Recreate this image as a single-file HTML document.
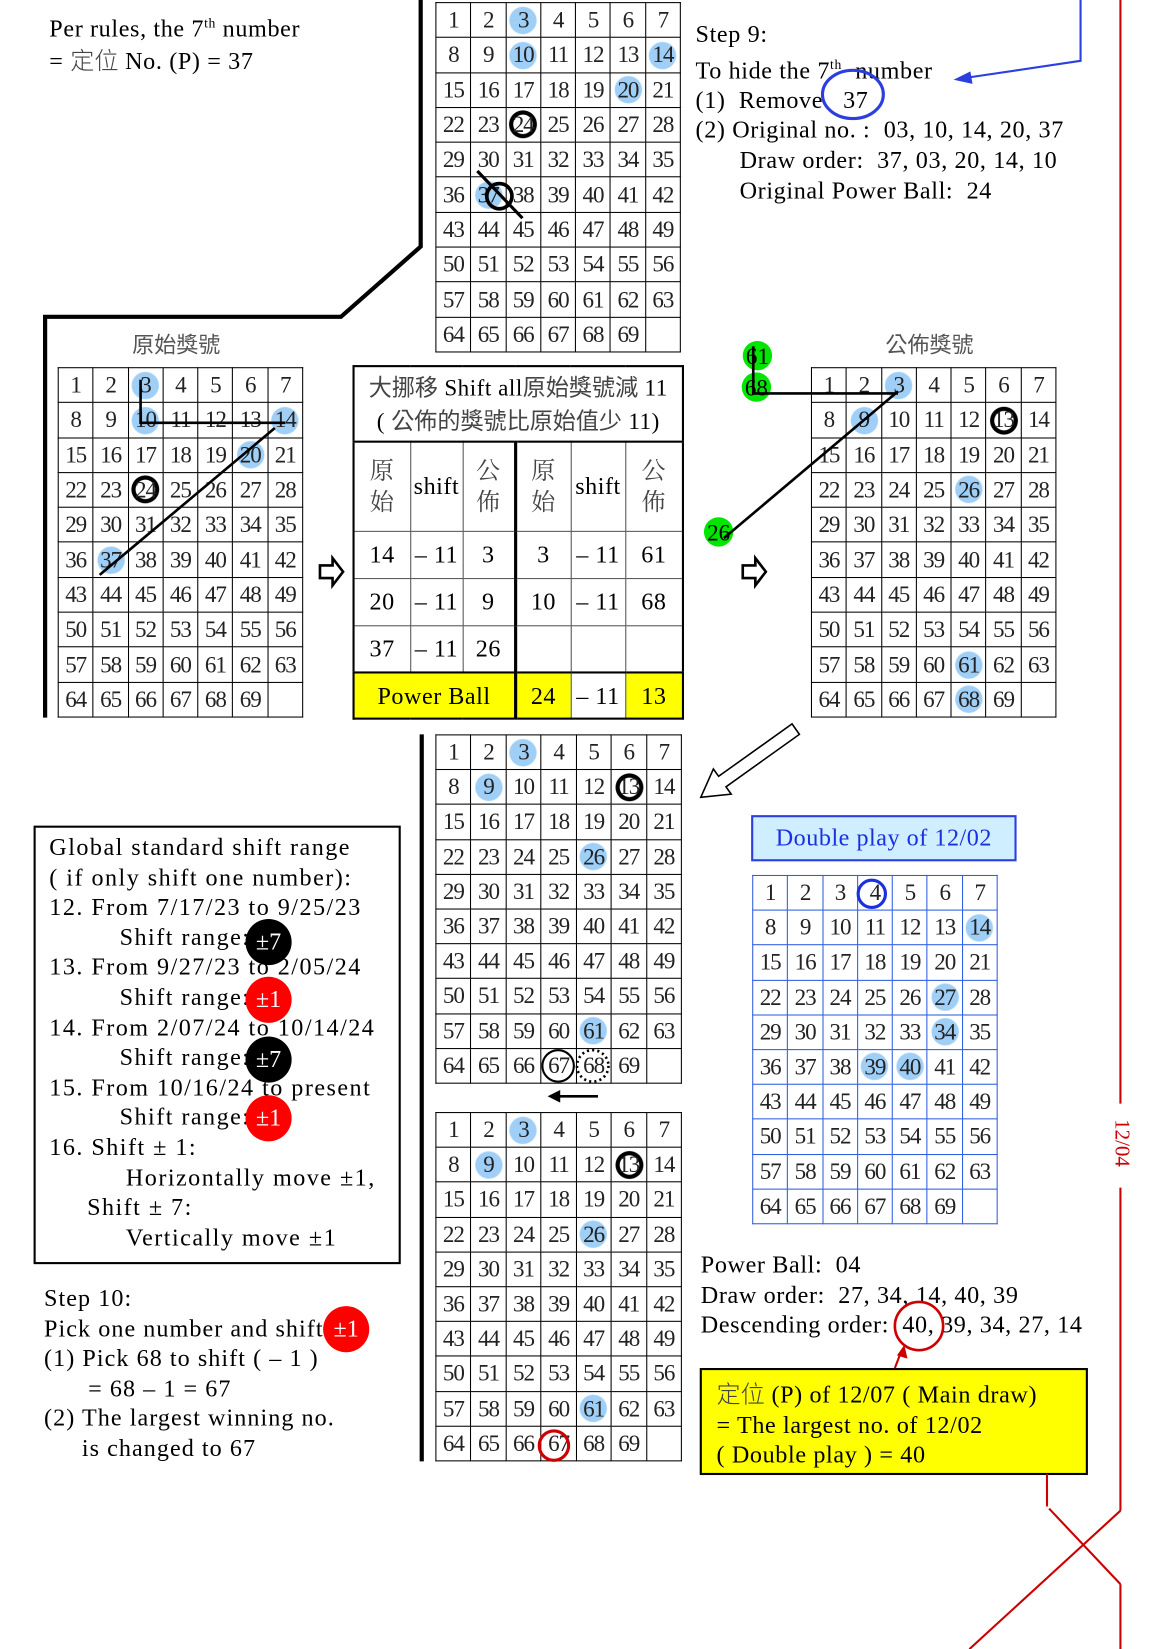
<!DOCTYPE html>
<html><head><meta charset="utf-8"><style>
html,body{margin:0;padding:0;background:#fff;width:1154px;height:1649px;overflow:hidden}
#w{position:absolute;left:0;top:0;width:1100px;height:1572px;transform:scale(1.04909);transform-origin:0 0;font-family:"Liberation Serif","Noto Serif CJK SC",serif;color:#000}
.a{position:absolute;white-space:nowrap}
.t{font-size:23px;line-height:28.6px;letter-spacing:0.6px}
table.g{position:absolute;border-collapse:collapse;table-layout:fixed}
table.g td{border:1.5px solid #000;text-align:center;vertical-align:middle;padding:0;font:22px/1 "Liberation Serif",serif;color:#222;letter-spacing:-1px}
table.bl td{border:1.5px solid #2f5ce0}
td.b{background:radial-gradient(circle,#9fcff7 0,#9fcff7 12.5px,transparent 13.5px)}
td.o{background:radial-gradient(circle,transparent 0,transparent 9px,#000 9.5px,#000 13px,transparent 13.5px)}
table.c{position:absolute;border-collapse:collapse;table-layout:fixed;left:336px;top:348px;width:314px;height:336px}
table.c td{border:1.5px solid #555;text-align:center;padding:0;font:23px/1 "Liberation Serif","Noto Serif CJK SC",serif;letter-spacing:0.5px}
.cj{font-family:"Noto Sans CJK TC",sans-serif;color:#444;letter-spacing:0}
.y{background:#ffff00}
.bd{position:absolute;width:44px;height:44px;border-radius:50%;color:#fff;font:23px/44px "Liberation Serif",serif;text-align:center}
</style></head><body><div id="w">

<div class="a t" style="left:47px;top:8px">Per rules, the 7<sup style="font-size:13px">th</sup> number<br>= <span class="cj" style="font-weight:300">定位</span> No. (P) = 37</div>

<div class="a t" style="left:663px;top:19px">Step 9:<br>To hide the 7<sup style="font-size:13px">th</sup>&nbsp; number<br>(1) &nbsp;Remove &nbsp; 37<br>(2) Original no. : &nbsp;03, 10, 14, 20, 37<br><span style="padding-left:42px">Draw order: &nbsp;37, 03, 20, 14, 10</span><br><span style="padding-left:42px">Original Power Ball: &nbsp;24</span></div>

<div class="a cj" style="left:126px;top:313px;font-size:21px;color:#555">原始獎號</div>
<div class="a cj" style="left:844px;top:313px;font-size:21px;color:#555">公佈獎號</div>

<!-- G1 -->
<table class="g" style="left:415px;top:2px;width:234px;height:334px">
<tr><td>1</td><td>2</td><td class="b">3</td><td>4</td><td>5</td><td>6</td><td>7</td></tr>
<tr><td>8</td><td>9</td><td class="b">10</td><td>11</td><td>12</td><td>13</td><td class="b">14</td></tr>
<tr><td>15</td><td>16</td><td>17</td><td>18</td><td>19</td><td class="b">20</td><td>21</td></tr>
<tr><td>22</td><td>23</td><td class="o">24</td><td>25</td><td>26</td><td>27</td><td>28</td></tr>
<tr><td>29</td><td>30</td><td>31</td><td>32</td><td>33</td><td>34</td><td>35</td></tr>
<tr><td>36</td><td class="b">37</td><td>38</td><td>39</td><td>40</td><td>41</td><td>42</td></tr>
<tr><td>43</td><td>44</td><td>45</td><td>46</td><td>47</td><td>48</td><td>49</td></tr>
<tr><td>50</td><td>51</td><td>52</td><td>53</td><td>54</td><td>55</td><td>56</td></tr>
<tr><td>57</td><td>58</td><td>59</td><td>60</td><td>61</td><td>62</td><td>63</td></tr>
<tr><td>64</td><td>65</td><td>66</td><td>67</td><td>68</td><td>69</td><td></td></tr>
</table>

<!-- G2 -->
<table class="g" style="left:55px;top:350px;width:234px;height:334px">
<tr><td>1</td><td>2</td><td class="b">3</td><td>4</td><td>5</td><td>6</td><td>7</td></tr>
<tr><td>8</td><td>9</td><td class="b">10</td><td>11</td><td>12</td><td>13</td><td class="b">14</td></tr>
<tr><td>15</td><td>16</td><td>17</td><td>18</td><td>19</td><td class="b">20</td><td>21</td></tr>
<tr><td>22</td><td>23</td><td class="o">24</td><td>25</td><td>26</td><td>27</td><td>28</td></tr>
<tr><td>29</td><td>30</td><td>31</td><td>32</td><td>33</td><td>34</td><td>35</td></tr>
<tr><td>36</td><td class="b">37</td><td>38</td><td>39</td><td>40</td><td>41</td><td>42</td></tr>
<tr><td>43</td><td>44</td><td>45</td><td>46</td><td>47</td><td>48</td><td>49</td></tr>
<tr><td>50</td><td>51</td><td>52</td><td>53</td><td>54</td><td>55</td><td>56</td></tr>
<tr><td>57</td><td>58</td><td>59</td><td>60</td><td>61</td><td>62</td><td>63</td></tr>
<tr><td>64</td><td>65</td><td>66</td><td>67</td><td>68</td><td>69</td><td></td></tr>
</table>

<!-- G3 -->
<table class="g" style="left:773px;top:350px;width:234px;height:334px">
<tr><td>1</td><td>2</td><td class="b">3</td><td>4</td><td>5</td><td>6</td><td>7</td></tr>
<tr><td>8</td><td class="b">9</td><td>10</td><td>11</td><td>12</td><td class="o">13</td><td>14</td></tr>
<tr><td>15</td><td>16</td><td>17</td><td>18</td><td>19</td><td>20</td><td>21</td></tr>
<tr><td>22</td><td>23</td><td>24</td><td>25</td><td class="b">26</td><td>27</td><td>28</td></tr>
<tr><td>29</td><td>30</td><td>31</td><td>32</td><td>33</td><td>34</td><td>35</td></tr>
<tr><td>36</td><td>37</td><td>38</td><td>39</td><td>40</td><td>41</td><td>42</td></tr>
<tr><td>43</td><td>44</td><td>45</td><td>46</td><td>47</td><td>48</td><td>49</td></tr>
<tr><td>50</td><td>51</td><td>52</td><td>53</td><td>54</td><td>55</td><td>56</td></tr>
<tr><td>57</td><td>58</td><td>59</td><td>60</td><td class="b">61</td><td>62</td><td>63</td></tr>
<tr><td>64</td><td>65</td><td>66</td><td>67</td><td class="b">68</td><td>69</td><td></td></tr>
</table>

<!-- G4 -->
<table class="g" style="left:415px;top:700px;width:235px;height:333px">
<tr><td>1</td><td>2</td><td class="b">3</td><td>4</td><td>5</td><td>6</td><td>7</td></tr>
<tr><td>8</td><td class="b">9</td><td>10</td><td>11</td><td>12</td><td class="o">13</td><td>14</td></tr>
<tr><td>15</td><td>16</td><td>17</td><td>18</td><td>19</td><td>20</td><td>21</td></tr>
<tr><td>22</td><td>23</td><td>24</td><td>25</td><td class="b">26</td><td>27</td><td>28</td></tr>
<tr><td>29</td><td>30</td><td>31</td><td>32</td><td>33</td><td>34</td><td>35</td></tr>
<tr><td>36</td><td>37</td><td>38</td><td>39</td><td>40</td><td>41</td><td>42</td></tr>
<tr><td>43</td><td>44</td><td>45</td><td>46</td><td>47</td><td>48</td><td>49</td></tr>
<tr><td>50</td><td>51</td><td>52</td><td>53</td><td>54</td><td>55</td><td>56</td></tr>
<tr><td>57</td><td>58</td><td>59</td><td>60</td><td class="b">61</td><td>62</td><td>63</td></tr>
<tr><td>64</td><td>65</td><td>66</td><td>67</td><td>68</td><td>69</td><td></td></tr>
</table>

<!-- G5 -->
<table class="g" style="left:415px;top:1060px;width:235px;height:333px">
<tr><td>1</td><td>2</td><td class="b">3</td><td>4</td><td>5</td><td>6</td><td>7</td></tr>
<tr><td>8</td><td class="b">9</td><td>10</td><td>11</td><td>12</td><td class="o">13</td><td>14</td></tr>
<tr><td>15</td><td>16</td><td>17</td><td>18</td><td>19</td><td>20</td><td>21</td></tr>
<tr><td>22</td><td>23</td><td>24</td><td>25</td><td class="b">26</td><td>27</td><td>28</td></tr>
<tr><td>29</td><td>30</td><td>31</td><td>32</td><td>33</td><td>34</td><td>35</td></tr>
<tr><td>36</td><td>37</td><td>38</td><td>39</td><td>40</td><td>41</td><td>42</td></tr>
<tr><td>43</td><td>44</td><td>45</td><td>46</td><td>47</td><td>48</td><td>49</td></tr>
<tr><td>50</td><td>51</td><td>52</td><td>53</td><td>54</td><td>55</td><td>56</td></tr>
<tr><td>57</td><td>58</td><td>59</td><td>60</td><td class="b">61</td><td>62</td><td>63</td></tr>
<tr><td>64</td><td>65</td><td>66</td><td>67</td><td>68</td><td>69</td><td></td></tr>
</table>

<!-- G6 blue -->
<table class="g bl" style="left:717px;top:834px;width:234px;height:333px">
<tr><td>1</td><td>2</td><td>3</td><td>4</td><td>5</td><td>6</td><td>7</td></tr>
<tr><td>8</td><td>9</td><td>10</td><td>11</td><td>12</td><td>13</td><td class="b">14</td></tr>
<tr><td>15</td><td>16</td><td>17</td><td>18</td><td>19</td><td>20</td><td>21</td></tr>
<tr><td>22</td><td>23</td><td>24</td><td>25</td><td>26</td><td class="b">27</td><td>28</td></tr>
<tr><td>29</td><td>30</td><td>31</td><td>32</td><td>33</td><td class="b">34</td><td>35</td></tr>
<tr><td>36</td><td>37</td><td>38</td><td class="b">39</td><td class="b">40</td><td>41</td><td>42</td></tr>
<tr><td>43</td><td>44</td><td>45</td><td>46</td><td>47</td><td>48</td><td>49</td></tr>
<tr><td>50</td><td>51</td><td>52</td><td>53</td><td>54</td><td>55</td><td>56</td></tr>
<tr><td>57</td><td>58</td><td>59</td><td>60</td><td>61</td><td>62</td><td>63</td></tr>
<tr><td>64</td><td>65</td><td>66</td><td>67</td><td>68</td><td>69</td><td></td></tr>
</table>

<!-- center table -->
<table class="c" style="border:2.5px solid #000">
<colgroup><col style="width:54px"><col style="width:50px"><col style="width:50px"><col style="width:53px"><col style="width:52px"><col style="width:55px"></colgroup>
<tr style="height:72px"><td colspan="6" style="font-size:22px;line-height:30px;border-bottom:2px solid #000"><span class="cj">大挪移</span> Shift all<span class="cj">原始獎號減</span> 11<br>( <span class="cj">公佈的獎號比原始值少</span> 11)</td></tr>
<tr style="height:85px"><td class="cj" style="line-height:30px">原<br>始</td><td>shift</td><td class="cj" style="line-height:30px;border-right:3px solid #000">公<br>佈</td><td class="cj" style="line-height:30px">原<br>始</td><td>shift</td><td class="cj" style="line-height:30px">公<br>佈</td></tr>
<tr style="height:45px"><td>14</td><td>– 11</td><td style="border-right:3px solid #000">3</td><td>3</td><td>– 11</td><td>61</td></tr>
<tr style="height:45px"><td>20</td><td>– 11</td><td style="border-right:3px solid #000">9</td><td>10</td><td>– 11</td><td>68</td></tr>
<tr style="height:45px"><td>37</td><td>– 11</td><td style="border-right:3px solid #000">26</td><td></td><td></td><td></td></tr>
<tr style="height:44px"><td colspan="3" class="y" style="border-right:3px solid #000;border-top:2px solid #000">Power Ball</td><td class="y" style="border-top:2px solid #000">24</td><td style="border-top:2px solid #000">– 11</td><td class="y" style="border-top:2px solid #000">13</td></tr>
</table>

<!-- left box -->
<div class="a" style="left:32px;top:787px;width:346px;height:414px;border:2px solid #000"></div>
<div class="a t" style="left:47px;top:794px;letter-spacing:1.4px">Global standard shift range<br>( if only shift one number):<br>12. From 7/17/23 to 9/25/23<br><span style="padding-left:67px">Shift range:</span><br>13. From 9/27/23 to 2/05/24<br><span style="padding-left:67px">Shift range:</span><br>14. From 2/07/24 to 10/14/24<br><span style="padding-left:67px">Shift range:</span><br>15. From 10/16/24 to present<br><span style="padding-left:67px">Shift range:</span><br>16. Shift ± 1:<br><span style="padding-left:73px">Horizontally move ±1,</span><br><span style="padding-left:36px">Shift ± 7:</span><br><span style="padding-left:73px">Vertically move ±1</span></div>
<div class="bd" style="left:234px;top:876px;background:#000">±7</div>
<div class="bd" style="left:234px;top:931px;background:#f00">±1</div>
<div class="bd" style="left:234px;top:988px;background:#000">±7</div>
<div class="bd" style="left:234px;top:1044px;background:#f00">±1</div>

<div class="a t" style="left:42px;top:1224px;letter-spacing:1px">Step 10:<br>Pick one number and shift<br>(1) Pick 68 to shift ( – 1 )<br><span style="padding-left:42px">= 68 – 1 = 67</span><br>(2) The largest winning no.<br><span style="padding-left:36px">is changed to 67</span></div>
<div class="bd" style="left:308px;top:1245px;background:#f00">±1</div>

<!-- double play -->
<div class="a" style="left:716px;top:777px;width:249px;height:40px;background:#cfeeff;border:2px solid #2b3fe0;color:#1a2fe0;font-size:23px;letter-spacing:0.5px;line-height:40px;text-align:center">Double play of 12/02</div>

<div class="a t" style="left:668px;top:1192px">Power Ball: &nbsp;04<br>Draw order: &nbsp;27, 34, 14, 40, 39<br>Descending order: &nbsp;40, 39, 34, 27, 14</div>

<div class="a" style="left:667px;top:1304px;width:366px;height:98px;background:#ffff00;border:2px solid #000"></div>
<div class="a t" style="left:683px;top:1313px"><span class="cj" style="font-weight:300">定位</span> (P) of 12/07 ( Main draw)<br>= The largest no. of 12/02<br>( Double play ) = 40</div>

<div class="a" style="left:1046px;top:1078px;font-size:20px;color:#c00;transform:rotate(90deg);transform-origin:center">12/04</div>

<svg class="a" style="left:0;top:0" width="1100" height="1572" viewBox="0 0 1100 1572">
<polyline points="401,0 401,235 325,302 43,302 43,684" fill="none" stroke="#000" stroke-width="4"/>
<line x1="402" y1="700" x2="402" y2="1393" stroke="#000" stroke-width="4"/>
<circle cx="476" cy="187" r="12" fill="none" stroke="#000" stroke-width="3.5"/>
<line x1="455" y1="163" x2="498" y2="208" stroke="#000" stroke-width="3"/>
<polyline points="134,362 134,403 272,403" fill="none" stroke="#000" stroke-width="2.5"/>
<line x1="95" y1="548" x2="262" y2="408" stroke="#000" stroke-width="2.5"/>
<circle cx="722" cy="339" r="14" fill="#00e600"/><text x="722" y="347" text-anchor="middle" font-size="22" font-family="Liberation Serif">61</text>
<circle cx="721" cy="369" r="14" fill="#00e600"/><text x="721" y="377" text-anchor="middle" font-size="22" font-family="Liberation Serif">68</text>
<circle cx="685" cy="507" r="14" fill="#00e600"/><text x="685" y="515" text-anchor="middle" font-size="22" font-family="Liberation Serif">26</text>
<polyline points="718,330 718,375 856,375" fill="none" stroke="#000" stroke-width="2.5"/>
<line x1="856" y1="373" x2="690" y2="513" stroke="#000" stroke-width="2.5"/>
<path d="M305,539 h12 v-7 l10,13 l-10,13 v-7 h-12z" fill="#fff" stroke="#000" stroke-width="2.5"/>
<path d="M708,539 h12 v-7 l10,13 l-10,13 v-7 h-12z" fill="#fff" stroke="#000" stroke-width="2.5"/>
<path d="M762,700 L755,690 L685,740 L680,733 L668,760 L697,757 L692,750 Z" fill="#fff" stroke="#000" stroke-width="1.5"/>
<circle cx="532" cy="1016" r="15" fill="none" stroke="#000" stroke-width="2"/>
<circle cx="565" cy="1016" r="15" fill="none" stroke="#000" stroke-width="2.5" stroke-dasharray="2,3"/>
<line x1="570" y1="1045" x2="532" y2="1045" stroke="#000" stroke-width="2.5"/>
<path d="M522,1045 l12,-6 v12z" fill="#000"/>
<circle cx="528" cy="1378" r="14" fill="none" stroke="#c00" stroke-width="3"/>
<circle cx="831" cy="852" r="13" fill="none" stroke="#1a2fe0" stroke-width="3"/>
<ellipse cx="813" cy="90" rx="29" ry="23" fill="none" stroke="#2b3fe0" stroke-width="3"/>
<polyline points="1030,0 1030,58 922,74" fill="none" stroke="#2b3fe0" stroke-width="2"/>
<path d="M909,76 l16,-8 l2,12z" fill="#2b3fe0"/>
<circle cx="876" cy="1264" r="23" fill="none" stroke="#c00" stroke-width="2.5"/>
<line x1="853" y1="1304" x2="858" y2="1291" stroke="#c00" stroke-width="2"/>
<path d="M862,1282 l3,13 l-10,-3z" fill="#c00"/>
<line x1="1068" y1="0" x2="1068" y2="1052" stroke="#c00" stroke-width="2"/>
<line x1="1068" y1="1132" x2="1068" y2="1440" stroke="#c00" stroke-width="2"/>
<line x1="1068" y1="1440" x2="924" y2="1572" stroke="#c00" stroke-width="2"/>
<line x1="998" y1="1405" x2="998" y2="1436" stroke="#c00" stroke-width="2"/>
<line x1="1000" y1="1438" x2="1068" y2="1510" stroke="#c00" stroke-width="2"/>
<line x1="1068" y1="1510" x2="1068" y2="1572" stroke="#c00" stroke-width="2"/>
</svg>
</div></body></html>
